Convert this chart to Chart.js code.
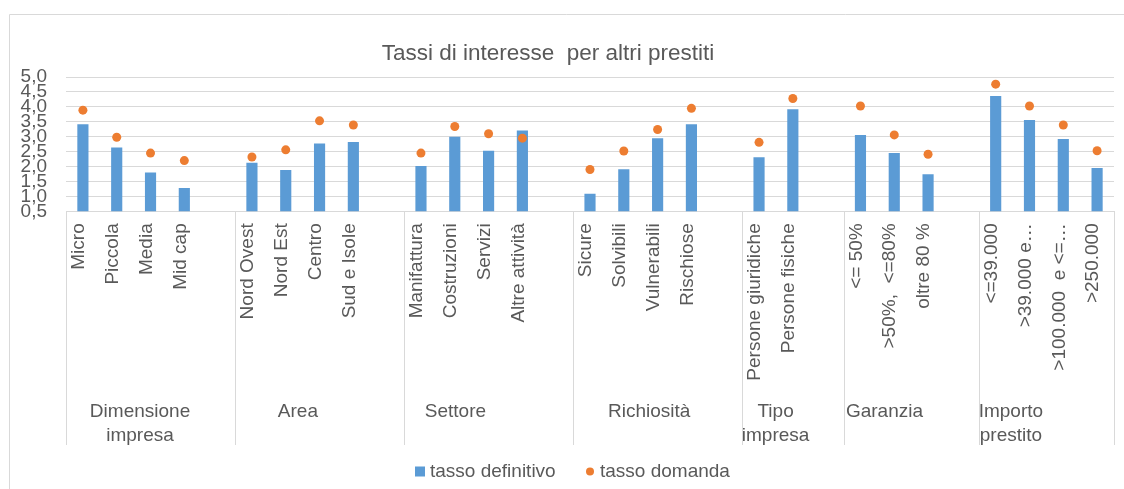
<!DOCTYPE html>
<html>
<head>
<meta charset="utf-8">
<script src="https://cdn.jsdelivr.net/npm/chart.js@4.4.1/dist/chart.umd.min.js"></script>
<style>
  html, body { margin: 0; padding: 0; background: #ffffff; }
  #wrap { width: 1124px; height: 489px; position: relative; }
</style>
</head>
<body>
<div id="wrap"><canvas id="c" width="1124" height="489"></canvas></div>
<script>
// ---- data ----
const categories = [
  "Micro", "Piccola", "Media", "Mid cap", "",
  "Nord Ovest", "Nord Est", "Centro", "Sud e Isole", "",
  "Manifattura", "Costruzioni", "Servizi", "Altre attività", "",
  "Sicure", "Solvibili", "Vulnerabili", "Rischiose", "",
  "Persone giuridiche", "Persone fisiche", "",
  "<= 50%", ">50%,  <=80%", "oltre 80 %", "",
  "<=39.000", ">39.000 e…", ">100.000  e <=…", ">250.000"
];
const tassoDefinitivo = [
  3.42, 2.64, 1.80, 1.28, null,
  2.13, 1.88, 2.77, 2.82, null,
  2.02, 3.00, 2.53, 3.21, null,
  1.09, 1.91, 2.95, 3.42, null,
  2.31, 3.92, null,
  3.06, 2.45, 1.74, null,
  4.36, 3.56, 2.92, 1.95
];
const tassoDomanda = [
  3.89, 2.98, 2.45, 2.20, null,
  2.32, 2.56, 3.53, 3.39, null,
  2.45, 3.34, 3.10, 2.95, null,
  1.90, 2.52, 3.24, 3.95, null,
  2.81, 4.28, null,
  4.03, 3.06, 2.41, null,
  4.76, 4.03, 3.39, 2.53
];
const groupNames = [
  ["Dimensione", "impresa"], ["Area"], ["Settore"], ["Richiosità"],
  ["Tipo", "impresa"], ["Garanzia"], ["Importo", "prestito"]
];
const groupSizes = [5, 5, 5, 5, 3, 4, 4];
const yTicks = [0.5, 1.0, 1.5, 2.0, 2.5, 3.0, 3.5, 4.0, 4.5, 5.0];
const seriesNames = ["tasso definitivo", "tasso domanda"];
const chartTitle = "Tassi di interesse  per altri prestiti";

// ---- layout / style constants ----
const TEXT = "#595959";
const GRID = "#D9D9D9";
const FONT = "'Liberation Sans', Arial, sans-serif";
const BLUE = "#5B9BD5";
const ORANGE = "#ED7D31";
const groupLabelShift = [1.69, 1.36, 1.02, 1.75, 0.49, 0.71, 0.45];

const decor = {
  id: 'decor',
  afterDraw(chart) {
    const ctx = chart.ctx;
    const xs = chart.scales.x;
    const area = chart.chartArea;
    ctx.save();
    // outer frame
    ctx.strokeStyle = GRID; ctx.lineWidth = 1;
    ctx.beginPath();
    ctx.moveTo(9.5, 489); ctx.lineTo(9.5, 14.5); ctx.lineTo(1124, 14.5);
    ctx.stroke();
    // group separators
    let start = 0;
    const bottom = 445;
    for (let g = 0; g <= groupSizes.length; g++) {
      const px = Math.round(xs.getPixelForValue(start - 0.5)) + 0.5;
      ctx.beginPath();
      ctx.moveTo(px, area.bottom); ctx.lineTo(px, bottom);
      ctx.stroke();
      if (g < groupSizes.length) start += groupSizes[g];
    }
    // group labels
    ctx.fillStyle = TEXT;
    ctx.font = "19px " + FONT;
    ctx.textAlign = 'center';
    ctx.textBaseline = 'middle';
    start = 0;
    groupNames.forEach((lines, g) => {
      const cx = xs.getPixelForValue(start + groupLabelShift[g]);
      lines.forEach((t, i) => ctx.fillText(t, cx, 412 + i * 23.5));
      start += groupSizes[g];
    });
    // title
    ctx.font = "22.5px " + FONT;
    ctx.fillText(chartTitle, 548, 54);
    // legend
    ctx.font = "19px " + FONT;
    ctx.textAlign = 'left';
    const ly = 471.5;
    ctx.fillStyle = chart.data.datasets[0].backgroundColor;
    ctx.fillRect(415, ly - 5, 10, 10);
    ctx.fillStyle = TEXT;
    ctx.fillText(chart.data.datasets[0].label, 430, ly);
    ctx.fillStyle = chart.data.datasets[1].pointBackgroundColor;
    ctx.beginPath(); ctx.arc(590, ly, 4, 0, Math.PI * 2); ctx.fill();
    ctx.fillStyle = TEXT;
    ctx.fillText(chart.data.datasets[1].label, 600, ly);
    ctx.restore();
  }
};

new Chart(document.getElementById('c'), {
  type: 'bar',
  data: {
    labels: categories,
    datasets: [
      {
        type: 'bar',
        label: seriesNames[0],
        data: tassoDefinitivo,
        backgroundColor: BLUE,
        borderWidth: 0,
        barPercentage: 0.33,
        categoryPercentage: 1.0,
        order: 2
      },
      {
        type: 'line',
        label: seriesNames[1],
        data: tassoDomanda,
        showLine: false,
        pointRadius: 4.5,
        pointHoverRadius: 4.5,
        pointBackgroundColor: ORANGE,
        pointBorderWidth: 0,
        borderColor: ORANGE,
        backgroundColor: ORANGE,
        order: 1
      }
    ]
  },
  options: {
    responsive: false,
    animation: false,
    devicePixelRatio: 1,
    layout: { padding: { left: 10, right: 10, top: 77, bottom: 0 } },
    plugins: {
      title: { display: false },
      legend: { display: false },
      tooltip: { enabled: false }
    },
    scales: {
      x: {
        grid: { display: false, drawTicks: false },
        border: { display: true, color: GRID, width: 1 },
        ticks: {
          color: TEXT,
          font: { family: FONT, size: 19 },
          autoSkip: false,
          maxRotation: 90,
          minRotation: 90,
          padding: 12,
          labelOffset: -4
        },
        afterFit(scale) {
          scale.height = 489 - 211.3;
          scale.paddingLeft = 0;
          scale.paddingRight = 0;
        }
      },
      y: {
        min: 0.5,
        max: 5.0,
        grid: { color: GRID, drawTicks: false },
        border: { display: false },
        afterBuildTicks(scale) { scale.ticks = yTicks.map(v => ({ value: v })); },
        ticks: {
          color: TEXT,
          font: { family: FONT, size: 19 },
          autoSkip: false,
          padding: 19,
          callback: (v) => Number(v).toFixed(1).replace('.', ',')
        },
        afterFit(scale) { scale.width = 56; scale.paddingTop = 0; scale.paddingBottom = 0; }
      }
    }
  },
  plugins: [decor]
});
</script>
</body>
</html>
